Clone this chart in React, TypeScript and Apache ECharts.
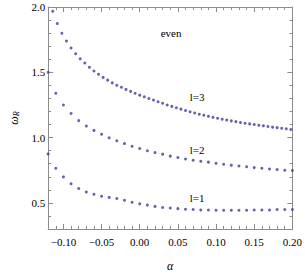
import React, { useEffect, useRef } from "react";
import * as echarts from "echarts";

const alpha12 = [-0.12, -0.11, -0.1, -0.09, -0.08, -0.07, -0.06, -0.05, -0.04, -0.03, -0.02, -0.01, 0, 0.01, 0.02, 0.03, 0.04, 0.05, 0.06, 0.07, 0.08, 0.09, 0.1, 0.11, 0.12, 0.13, 0.14, 0.15, 0.16, 0.17, 0.18, 0.19, 0.2];
const omega1 = [0.875, 0.765, 0.699, 0.647, 0.61, 0.583, 0.566, 0.551, 0.542, 0.534, 0.52, 0.505, 0.493, 0.483, 0.473, 0.465, 0.461, 0.456, 0.451, 0.449, 0.446, 0.446, 0.443, 0.443, 0.443, 0.443, 0.443, 0.446, 0.446, 0.446, 0.449, 0.449, 0.449];
const omega2 = [1.5, 1.34, 1.25, 1.184, 1.13, 1.088, 1.055, 1.026, 0.998, 0.976, 0.954, 0.934, 0.917, 0.899, 0.885, 0.873, 0.858, 0.847, 0.836, 0.827, 0.818, 0.812, 0.804, 0.796, 0.789, 0.782, 0.777, 0.77, 0.765, 0.76, 0.755, 0.75, 0.748];
const alpha3 = [-0.114, -0.108, -0.102, -0.096, -0.09, -0.084, -0.078, -0.072, -0.066, -0.06, -0.054, -0.048, -0.042, -0.036, -0.03, -0.024, -0.018, -0.012, -0.006, 0, 0.006, 0.012, 0.018, 0.024, 0.03, 0.036, 0.042, 0.048, 0.054, 0.06, 0.066, 0.072, 0.078, 0.084, 0.09, 0.096, 0.102, 0.108, 0.114, 0.12, 0.126, 0.132, 0.138, 0.144, 0.15, 0.156, 0.162, 0.168, 0.174, 0.18, 0.186, 0.192, 0.198];
const omega3 = [1.967, 1.873, 1.799, 1.739, 1.686, 1.642, 1.603, 1.571, 1.538, 1.51, 1.485, 1.461, 1.44, 1.419, 1.401, 1.385, 1.369, 1.354, 1.339, 1.325, 1.312, 1.299, 1.287, 1.275, 1.263, 1.25, 1.239, 1.228, 1.218, 1.207, 1.198, 1.188, 1.179, 1.171, 1.163, 1.155, 1.148, 1.141, 1.135, 1.128, 1.122, 1.116, 1.11, 1.105, 1.1, 1.095, 1.09, 1.085, 1.08, 1.076, 1.071, 1.067, 1.062];

const xMajor = [-0.1, -0.05, 0, 0.05, 0.1, 0.15, 0.2];
const yMajor = [0.5, 1.0, 1.5, 2.0];
const curveLabels = ["even", "l=3", "l=2", "l=1"];

const FONT = "Liberation Serif";
const FRAME = "#8c8c8c";
const DOT = "#3d3d99";

const isMult = (v: number, step: number) => Math.abs(v / step - Math.round(v / step)) < 1e-6;
const fmtNum = (v: number, d: number) => {
  const s = Math.abs(v).toFixed(d);
  return v < -1e-9 ? "\u2212" + s : s;
};

export default function App() {
  const ref = useRef<HTMLDivElement>(null);
  useEffect(() => {
    if (!ref.current) return;
    const chart = echarts.init(ref.current, null, { renderer: "svg" });
    const xBase = (pos: "bottom" | "top", showLabel: boolean) => ({
      type: "value" as const,
      position: pos,
      min: -0.12,
      max: 0.2,
      interval: 0.01,
      axisLine: { show: true, onZero: false, lineStyle: { color: FRAME, width: 1 } },
      axisTick: { show: true, inside: true, length: 3, lineStyle: { color: FRAME } },
      axisLabel: {
        show: showLabel,
        margin: 7,
        color: "#000",
        fontFamily: FONT,
        fontSize: 11,
        formatter: (v: number) => (isMult(v, 0.05) ? fmtNum(v, 2) : ""),
      },
      splitLine: { show: false },
    });
    const xMaj = (pos: "bottom" | "top") => ({
      type: "value" as const,
      position: pos,
      min: -0.12,
      max: 0.2,
      axisLine: { show: false, onZero: false },
      axisTick: { show: true, inside: true, length: 5, customValues: xMajor, lineStyle: { color: FRAME } },
      axisLabel: { show: false, customValues: xMajor },
      splitLine: { show: false },
    });
    const yBase = (pos: "left" | "right", showLabel: boolean) => ({
      type: "value" as const,
      position: pos,
      min: 0.3,
      max: 2.0,
      interval: 0.1,
      axisLine: { show: true, onZero: false, lineStyle: { color: FRAME, width: 1 } },
      axisTick: { show: true, inside: true, length: 3, lineStyle: { color: FRAME } },
      axisLabel: {
        show: showLabel,
        margin: 3,
        color: "#000",
        fontFamily: FONT,
        fontSize: 11,
        formatter: (v: number) => (isMult(v, 0.5) ? v.toFixed(1) : ""),
      },
      splitLine: { show: false },
    });
    const yMaj = (pos: "left" | "right") => ({
      type: "value" as const,
      position: pos,
      min: 0.3,
      max: 2.0,
      axisLine: { show: false, onZero: false },
      axisTick: { show: true, inside: true, length: 5, customValues: yMajor, lineStyle: { color: FRAME } },
      axisLabel: { show: false, customValues: yMajor },
      splitLine: { show: false },
    });

    const xMain: any = xBase("bottom", true);
    xMain.name = "\u03b1";
    xMain.nameLocation = "middle";
    xMain.nameGap = 31;
    xMain.nameTextStyle = { fontFamily: FONT, fontSize: 12, fontStyle: "italic", color: "#000" };

    const yMain: any = yBase("left", true);
    yMain.name = "{w|\u03c9}{s|R}";
    yMain.nameLocation = "middle";
    yMain.nameGap = 26;
    yMain.nameRotate = 90;
    yMain.nameTextStyle = {
      rich: {
        w: { fontFamily: FONT, fontSize: 12, fontStyle: "italic", color: "#000" },
        s: { fontFamily: FONT, fontSize: 8, fontStyle: "italic", color: "#000", verticalAlign: "bottom", padding: [5, 0, 0, 0] },
      },
    };

    const dotSeries = (xs: number[], ys: number[]) => ({
      type: "scatter" as const,
      xAxisIndex: 0,
      yAxisIndex: 0,
      symbol: "circle",
      symbolSize: 3,
      itemStyle: { color: DOT },
      data: xs.map((x, i) => [x, ys[i]]),
      clip: true,
    });

    const txt = (x: number, y: number, t: string) => ({
      type: "text" as const,
      x,
      y,
      style: { text: t, fontFamily: FONT, fontSize: 11, fill: "#000", textAlign: "center", textVerticalAlign: "middle" },
    });

    chart.setOption({
      animation: false,
      backgroundColor: "#fff",
      grid: { left: 38, right: 11, top: 7, bottom: 38, containLabel: false },
      xAxis: [xMain, xMaj("bottom"), xBase("top", false), xMaj("top")],
      yAxis: [yMain, yMaj("left"), yBase("right", false), yMaj("right")],
      series: [dotSeries(alpha12, omega1), dotSeries(alpha12, omega2), dotSeries(alpha3, omega3)],
      graphic: [
        txt(171, 33, curveLabels[0]),
        txt(197, 97, curveLabels[1]),
        txt(197, 150, curveLabels[2]),
        txt(197, 198, curveLabels[3]),
      ],
    });
    return () => chart.dispose();
  }, []);
  return <div ref={ref} style={{ position: "fixed", left: 0, top: 0, width: 305, height: 277 }} />;
}
